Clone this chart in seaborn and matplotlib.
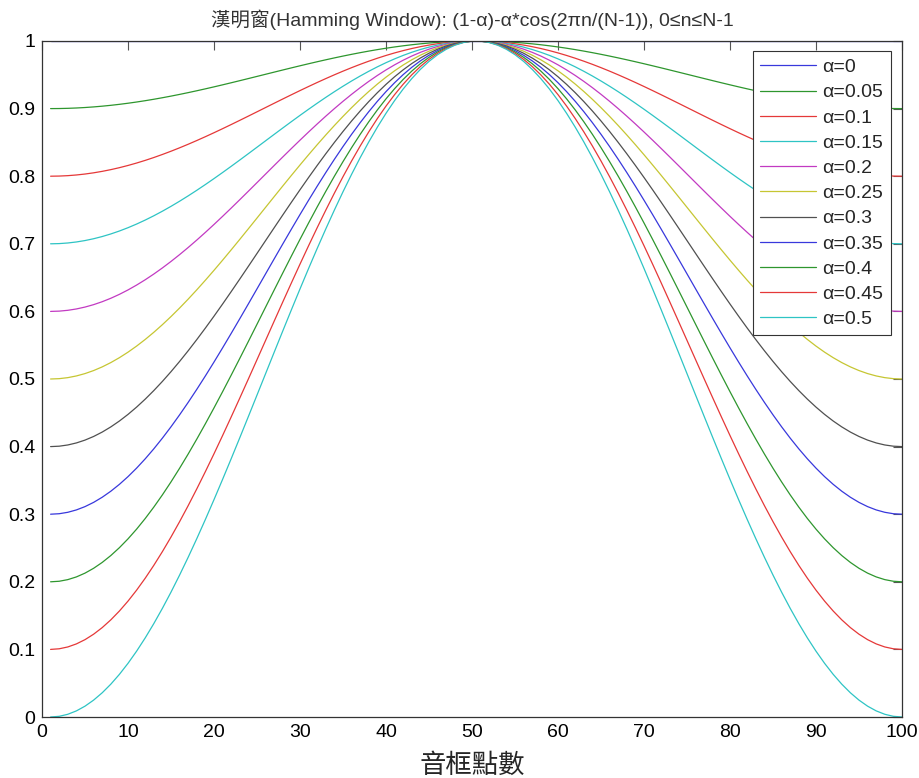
import numpy as np
import pandas as pd
import matplotlib
matplotlib.use("Agg")
import matplotlib.pyplot as plt
import seaborn as sns

# Window coefficients shown in the legend
alphas = [0, 0.05, 0.1, 0.15, 0.2, 0.25, 0.3, 0.35, 0.4, 0.45, 0.5]
alpha_labels = ["α=0", "α=0.05", "α=0.1", "α=0.15", "α=0.2", "α=0.25",
                "α=0.3", "α=0.35", "α=0.4", "α=0.45", "α=0.5"]
frame_len = 100  # N, samples per frame

# MATLAB-like line colour order (b, g, r, c, m, y, k), repeated
line_colors = ["#3838dc", "#2e962e", "#e53838", "#2ec4c4", "#c23ac2",
               "#c6c632", "#505050", "#3838dc", "#2e962e", "#e53838", "#2ec4c4"]

x_ticks = list(range(0, 101, 10))
y_ticks = [0, 0.1, 0.2, 0.3, 0.4, 0.5, 0.6, 0.7, 0.8, 0.9, 1]

# Generalised Hamming window: (1-α) - α*cos(2πn/(N-1)), plotted at sample index n+1
n = np.arange(frame_len)
rows = []
for a, lab in zip(alphas, alpha_labels):
    w = (1 - a) - a * np.cos(2 * np.pi * n / (frame_len - 1))
    rows.append(pd.DataFrame({"idx": n + 1, "w": w, "label": lab}))
df = pd.concat(rows, ignore_index=True)

sns.set_style("white")
plt.rcParams["font.family"] = ["Liberation Sans", "Noto Sans CJK TC", "DejaVu Sans"]

fig = plt.figure(figsize=(9.2, 7.78), dpi=100)
ax = fig.add_axes([42 / 920, 1 - 717 / 778, 860 / 920, 676 / 778])

sns.lineplot(data=df, x="idx", y="w", hue="label", hue_order=alpha_labels,
             palette=line_colors, linewidth=0.9, ax=ax, legend=True)

ax.set_xlim(0, 100)
ax.set_ylim(0, 1)
ax.set_xticks(x_ticks)
ax.set_yticks(y_ticks)
ax.set_xticklabels([str(t) for t in x_ticks])
ax.set_yticklabels([f"{t:g}" for t in y_ticks])
ax.tick_params(direction="in", length=6.5, width=0.8, color="#555555",
               top=True, right=True, labelsize=14, pad=5, labelcolor="black")
for s in ax.spines.values():
    s.set_color("#333333")
    s.set_linewidth(0.9)

ax.set_xlabel("音框點數", fontsize=19, family=["Noto Sans CJK TC"], labelpad=8)
ax.set_ylabel("")
ax.set_title("漢明窗(Hamming Window): (1-α)-α*cos(2πn/(N-1)), 0≤n≤N-1",
             fontsize=14, color="#333333", pad=11,
             family=["Liberation Sans", "Noto Sans CJK TC"])

leg = ax.legend(loc="upper right", bbox_to_anchor=(0.987, 0.985), borderaxespad=0,
                fontsize=14, frameon=True, fancybox=False, handlelength=2.85,
                handletextpad=0.35, labelspacing=0.39, borderpad=0.38, title=None)
leg.get_frame().set_edgecolor("#333333")
leg.get_frame().set_linewidth(0.8)
leg.get_frame().set_alpha(1)

fig.savefig("out.png", dpi=100)
